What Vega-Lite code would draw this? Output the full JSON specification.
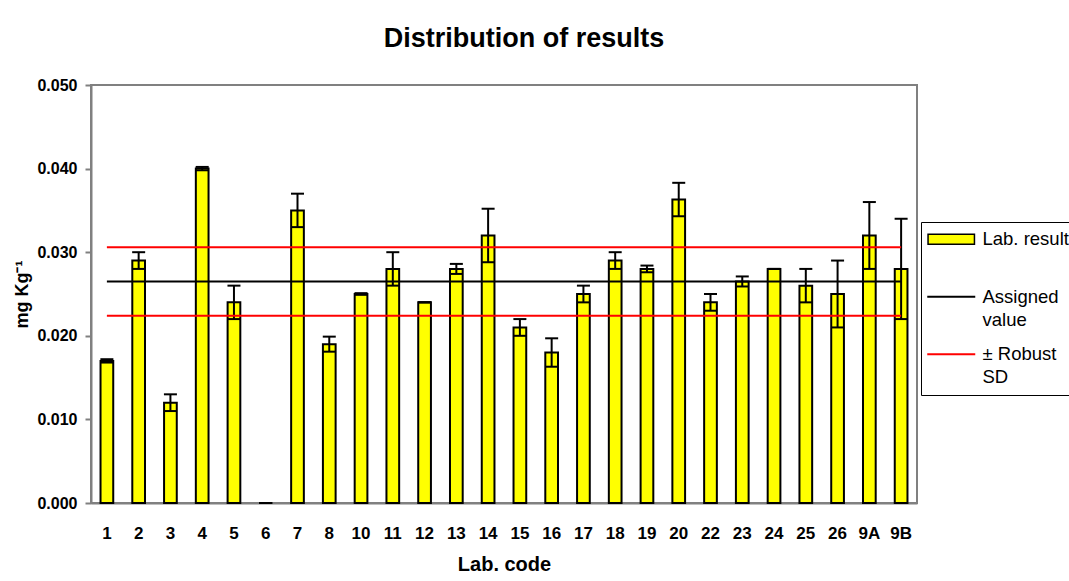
{
  "$schema": "https://vega.github.io/schema/vega-lite/v6.json",
  "width": 826,
  "height": 418,
  "autosize": "none",
  "padding": {"left": 91, "top": 85, "right": 152, "bottom": 78},
  "background": "white",
  "title": {"text": "Distribution of results", "fontSize": 27, "font": "Liberation Sans", "fontWeight": "bold", "anchor": "middle", "dx": 20, "offset": 24, "color": "black"},
  "config": {"view": {"stroke": "#808080", "strokeWidth": 2}, "font": "Liberation Sans", "style": {"guide-label": {"lineHeight": 23}}},
  "data": {"values": [
    {"lab": "1", "value": 0.017, "lo": 0.0168, "hi": 0.0172, "assigned": 0.0265, "upper": 0.0306, "lower": 0.0224},
    {"lab": "2", "value": 0.029, "lo": 0.028, "hi": 0.030, "assigned": 0.0265, "upper": 0.0306, "lower": 0.0224},
    {"lab": "3", "value": 0.012, "lo": 0.011, "hi": 0.013, "assigned": 0.0265, "upper": 0.0306, "lower": 0.0224},
    {"lab": "4", "value": 0.040, "lo": 0.0398, "hi": 0.0402, "assigned": 0.0265, "upper": 0.0306, "lower": 0.0224},
    {"lab": "5", "value": 0.024, "lo": 0.022, "hi": 0.026, "assigned": 0.0265, "upper": 0.0306, "lower": 0.0224},
    {"lab": "6", "value": 0.000, "lo": 0.0, "hi": 0.0, "assigned": 0.0265, "upper": 0.0306, "lower": 0.0224},
    {"lab": "7", "value": 0.035, "lo": 0.033, "hi": 0.037, "assigned": 0.0265, "upper": 0.0306, "lower": 0.0224},
    {"lab": "8", "value": 0.019, "lo": 0.0181, "hi": 0.0199, "assigned": 0.0265, "upper": 0.0306, "lower": 0.0224},
    {"lab": "10", "value": 0.025, "lo": 0.0249, "hi": 0.0251, "assigned": 0.0265, "upper": 0.0306, "lower": 0.0224},
    {"lab": "11", "value": 0.028, "lo": 0.026, "hi": 0.030, "assigned": 0.0265, "upper": 0.0306, "lower": 0.0224},
    {"lab": "12", "value": 0.024, "lo": 0.024, "hi": 0.024, "assigned": 0.0265, "upper": 0.0306, "lower": 0.0224},
    {"lab": "13", "value": 0.028, "lo": 0.0274, "hi": 0.0286, "assigned": 0.0265, "upper": 0.0306, "lower": 0.0224},
    {"lab": "14", "value": 0.032, "lo": 0.0288, "hi": 0.0352, "assigned": 0.0265, "upper": 0.0306, "lower": 0.0224},
    {"lab": "15", "value": 0.021, "lo": 0.020, "hi": 0.022, "assigned": 0.0265, "upper": 0.0306, "lower": 0.0224},
    {"lab": "16", "value": 0.018, "lo": 0.0163, "hi": 0.0197, "assigned": 0.0265, "upper": 0.0306, "lower": 0.0224},
    {"lab": "17", "value": 0.025, "lo": 0.024, "hi": 0.026, "assigned": 0.0265, "upper": 0.0306, "lower": 0.0224},
    {"lab": "18", "value": 0.029, "lo": 0.028, "hi": 0.030, "assigned": 0.0265, "upper": 0.0306, "lower": 0.0224},
    {"lab": "19", "value": 0.028, "lo": 0.0276, "hi": 0.0284, "assigned": 0.0265, "upper": 0.0306, "lower": 0.0224},
    {"lab": "20", "value": 0.0363, "lo": 0.0343, "hi": 0.0383, "assigned": 0.0265, "upper": 0.0306, "lower": 0.0224},
    {"lab": "22", "value": 0.024, "lo": 0.023, "hi": 0.025, "assigned": 0.0265, "upper": 0.0306, "lower": 0.0224},
    {"lab": "23", "value": 0.0265, "lo": 0.0259, "hi": 0.0271, "assigned": 0.0265, "upper": 0.0306, "lower": 0.0224},
    {"lab": "24", "value": 0.028, "lo": 0.028, "hi": 0.028, "assigned": 0.0265, "upper": 0.0306, "lower": 0.0224},
    {"lab": "25", "value": 0.026, "lo": 0.024, "hi": 0.028, "assigned": 0.0265, "upper": 0.0306, "lower": 0.0224},
    {"lab": "26", "value": 0.025, "lo": 0.021, "hi": 0.029, "assigned": 0.0265, "upper": 0.0306, "lower": 0.0224},
    {"lab": "9A", "value": 0.032, "lo": 0.028, "hi": 0.036, "assigned": 0.0265, "upper": 0.0306, "lower": 0.0224},
    {"lab": "9B", "value": 0.028, "lo": 0.022, "hi": 0.034, "assigned": 0.0265, "upper": 0.0306, "lower": 0.0224}
  ]},
  "encoding": {
    "x": {
      "field": "lab", "type": "nominal", "sort": null,
      "scale": {"paddingInner": 0.6, "paddingOuter": 0.3},
      "axis": {"title": "Lab. code", "labelAngle": 0, "labelFontWeight": "bold", "labelFontSize": 17, "labelColor": "black", "labelPadding": 22, "ticks": false, "domainColor": "#808080", "domainWidth": 2, "titleFontSize": 20, "titleFontWeight": "bold", "titleColor": "black", "titlePadding": 13}
    }
  },
  "layer": [
    {
      "mark": {"type": "bar", "stroke": "black", "strokeWidth": 2},
      "encoding": {
        "y": {"field": "value", "type": "quantitative", "title": "mg Kg⁻¹",
          "scale": {"domain": [0, 0.05], "nice": false},
          "axis": {"values": [0, 0.01, 0.02, 0.03, 0.04, 0.05], "format": ".3f", "grid": false, "labelFontWeight": "bold", "labelFontSize": 16, "labelColor": "black", "tickColor": "#808080", "tickSize": 6, "tickWidth": 2, "domainColor": "#808080", "domainWidth": 2, "labelPadding": 8, "titleFontSize": 18, "titleFontWeight": "bold", "titleColor": "black", "titlePadding": 5}},
        "fill": {"datum": "Lab. result",
          "scale": {"domain": ["Lab. result"], "range": ["#FFFF00"]},
          "legend": {
            "orient": "none", "legendX": 830, "legendY": 137, "title": null,
            "padding": 8, "labelFontSize": 18.5, "labelColor": "transparent", "labelLimit": 0,
            "symbolSize": 256, "symbolOffset": 13, "labelOffset": 22, "rowPadding": 15.5,
            "symbolType": "M-2.9,-0.62H2.9V0.62H-2.9Z", "symbolStrokeColor": "black", "symbolStrokeWidth": 1.5, "symbolOpacity": 1,
            "labelExpr": "[datum.label, '']"
          }
        }
      }
    },
    {
      "mark": {"type": "rule", "color": "black", "strokeWidth": 2},
      "encoding": {
        "y": {"field": "lo", "type": "quantitative", "title": "mg Kg⁻¹"},
        "y2": {"field": "hi"}
      }
    },
    {
      "mark": {"type": "tick", "color": "black", "thickness": 2, "size": 13, "opacity": 1},
      "encoding": {
        "y": {"field": "lo", "type": "quantitative", "title": "mg Kg⁻¹"}
      }
    },
    {
      "mark": {"type": "tick", "color": "black", "thickness": 2, "size": 13, "opacity": 1},
      "encoding": {
        "y": {"field": "hi", "type": "quantitative", "title": "mg Kg⁻¹"}
      }
    },
    {
      "mark": {"type": "line", "strokeWidth": 2},
      "encoding": {
        "y": {"field": "assigned", "type": "quantitative", "title": "mg Kg⁻¹"},
        "color": {"datum": "Assigned value",
          "scale": {"domain": ["Lab. result", "Assigned value", "± Robust SD"], "range": ["transparent", "black", "#FF0000"]},
          "legend": {
            "orient": "none", "legendX": 830, "legendY": 137, "title": null,
            "strokeColor": "black",
            "padding": 8, "labelFontSize": 18.5, "labelColor": "black", "labelLimit": 0,
            "symbolSize": 256, "symbolOffset": 13, "labelOffset": 22, "rowPadding": 15.5,
            "symbolType": "M-3,0H3", "symbolStrokeWidth": 2, "symbolOpacity": 1,
            "labelExpr": "datum.label === 'Assigned value' ? ['Assigned', 'value'] : (datum.label === '± Robust SD' ? ['± Robust', 'SD'] : [datum.label, ''])"
          }
        }
      }
    },
    {
      "mark": {"type": "line", "strokeWidth": 2},
      "encoding": {
        "y": {"field": "upper", "type": "quantitative", "title": "mg Kg⁻¹"},
        "color": {"datum": "± Robust SD"}
      }
    },
    {
      "mark": {"type": "line", "strokeWidth": 2},
      "encoding": {
        "y": {"field": "lower", "type": "quantitative", "title": "mg Kg⁻¹"},
        "color": {"datum": "± Robust SD"}
      }
    }
  ]
}
